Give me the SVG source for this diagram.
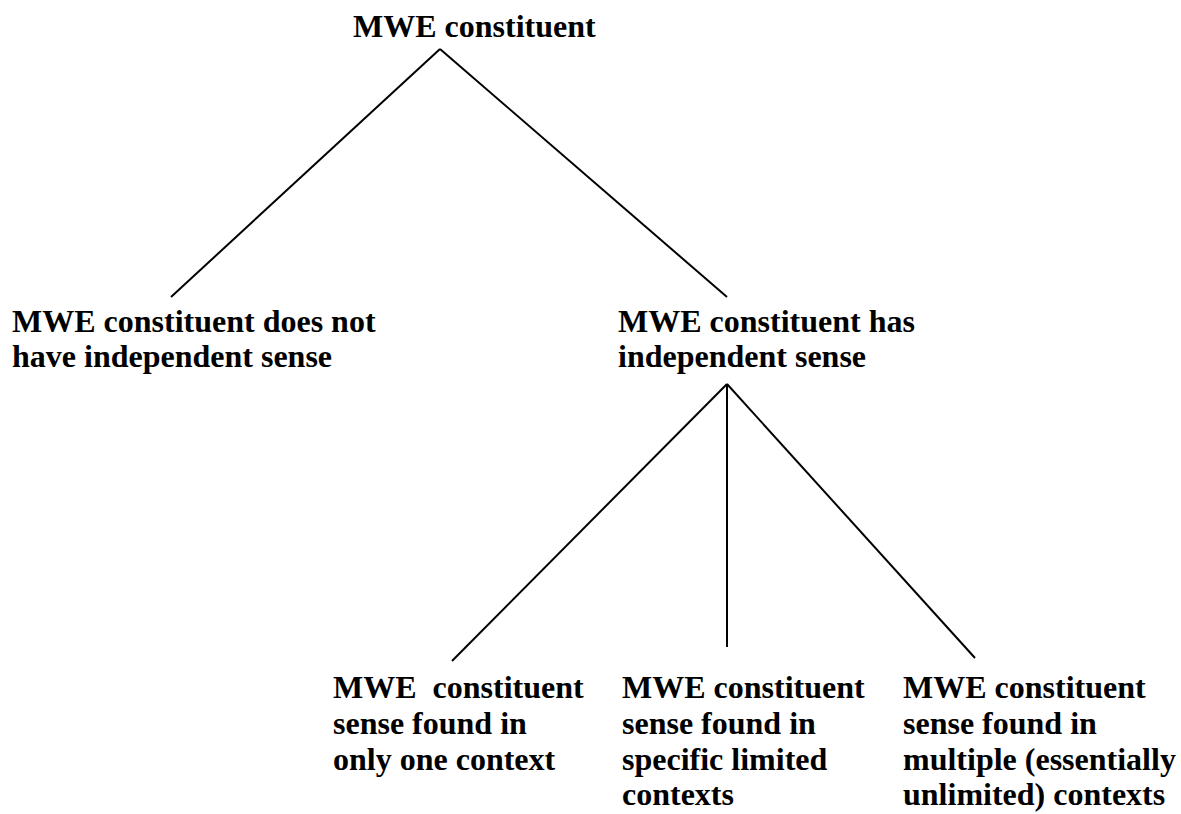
<svg xmlns="http://www.w3.org/2000/svg" width="1181" height="814" viewBox="0 0 1181 814">
  <style>
    .lbl { font-family: 'Liberation Serif', 'Times New Roman', serif; font-weight: 700; font-size: 32px; fill: #000; }
    .edge { stroke: #000; stroke-width: 2; fill: none; }
  </style>
  <rect width="1181" height="814" fill="#fff"/>
  <g id="connectors">
    <line class="edge" x1="440" y1="49" x2="171" y2="297"/>
    <line class="edge" x1="440" y1="49" x2="727" y2="297"/>
    <line class="edge" x1="727" y1="384" x2="452" y2="661"/>
    <line class="edge" x1="727" y1="384" x2="727" y2="647"/>
    <line class="edge" x1="727" y1="384" x2="975" y2="658"/>
  </g>
  <g id="root">
    <text class="lbl" x="353" y="37">MWE constituent</text>
  </g>
  <g id="no-sense">
    <text class="lbl" x="12" y="332">MWE constituent does not</text>
    <text class="lbl" x="12" y="367">have independent sense</text>
  </g>
  <g id="has-sense">
    <text class="lbl" x="618" y="332">MWE constituent has</text>
    <text class="lbl" x="618" y="367">independent sense</text>
  </g>
  <g id="one-context">
    <text class="lbl" x="333" y="698" xml:space="preserve">MWE  constituent</text>
    <text class="lbl" x="333" y="734">sense found in</text>
    <text class="lbl" x="333" y="770">only one context</text>
  </g>
  <g id="limited-contexts">
    <text class="lbl" x="622" y="698">MWE constituent</text>
    <text class="lbl" x="622" y="734">sense found in</text>
    <text class="lbl" x="622" y="770">specific limited</text>
    <text class="lbl" x="622" y="805">contexts</text>
  </g>
  <g id="multiple-contexts">
    <text class="lbl" x="903" y="698">MWE constituent</text>
    <text class="lbl" x="903" y="734">sense found in</text>
    <text class="lbl" x="903" y="770">multiple (essentially</text>
    <text class="lbl" x="903" y="805">unlimited) contexts</text>
  </g>
</svg>
